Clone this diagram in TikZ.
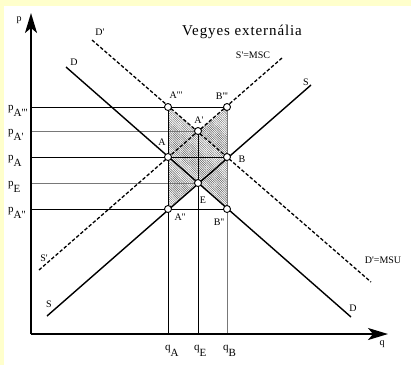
\documentclass[tikz,border=0pt]{standalone}
\usepackage{fontspec}
\setmainfont{Liberation Serif}[Ligatures=TeXOff]
\usetikzlibrary{arrows.meta,patterns.meta}
\definecolor{bgyellow}{RGB}{255,255,204}
\definecolor{guidegray}{RGB}{120,120,120}
\definecolor{hatchgray}{RGB}{90,90,90}
\newcommand{\lsub}[2]{#1\raisebox{-6.5pt}{#2}}
\begin{document}
\begin{tikzpicture}[x=1pt,y=-1pt,
  axis/.style={line width=2pt,-{Stealth[length=20pt,width=12pt,inset=5pt]}},
  curve/.style={line width=1.4pt},
  mcurve/.style={line width=1.3pt,dash pattern=on 3.5pt off 2pt},
  guide/.style={line width=0.9pt},
  gguide/.style={line width=0.9pt,draw=guidegray},
  ptc/.style={circle,draw,fill=white,line width=0.9pt,inner sep=0pt,minimum size=7pt},
  lbl/.style={font=\fontsize{10}{12}\selectfont,inner sep=0pt},
  plbl/.style={font=\fontsize{11}{12}\selectfont,inner sep=0pt,anchor=base west},
]
\fill[bgyellow] (0,0) rectangle (411,365);
\fill[white] (4,6) rectangle (411,365);
\useasboundingbox (0,0) rectangle (411,365);
% key points
\coordinate (cAppp) at (168,107);
\coordinate (cBppp) at (227,107);
\coordinate (cAp) at (198,131);
\coordinate (cA) at (168,157);
\coordinate (cB) at (227,157);
\coordinate (cE) at (198,183);
\coordinate (cApp) at (168,209);
\coordinate (cBpp) at (227,209);
% axis
\coordinate (O) at (31,334);
\coordinate (ptop) at (31,13);
\coordinate (qend) at (388,334);
% axis feet / guide ends
\coordinate (pAppp) at (31,107);
\coordinate (pAp) at (31,131);
\coordinate (pA) at (31,157);
\coordinate (pE) at (31,183);
\coordinate (pApp) at (31,209);
\coordinate (qA) at (168,334);
\coordinate (qE) at (198,334);
\coordinate (qB) at (227,334);
% curve ends
\coordinate (D1) at (66,67);
\coordinate (D2) at (351,317);
\coordinate (Dp1) at (92,40);
\coordinate (Dp2) at (371,282);
\coordinate (S1) at (47,316);
\coordinate (S2) at (311,85);
\coordinate (Sp1) at (39,270);
\coordinate (Sp2) at (282,58);
% hatch
\path[pattern={Lines[angle=-45,distance=1.6pt,line width=0.45pt]},pattern color=hatchgray]
  (cAppp) -- (cAp) -- (cBppp) -- (cBpp) -- (cE) -- (cApp) -- cycle;
% guides
\draw[guide] (pAppp) -- (cBppp);
\draw[gguide] (pAp) -- (cAp);
\draw[guide] (pA) -- (cB);
\draw[gguide] (pE) -- (cE);
\draw[guide] (pApp) -- (cBpp);
\draw[guide] (cAppp) -- (qA);
\draw[guide] (cAp) -- (qE);
\draw[gguide] (cBppp) -- (qB);
% curves
\draw[curve] (D1) -- (D2);
\draw[curve] (S1) -- (S2);
\draw[mcurve] (Dp1) -- (Dp2);
\draw[mcurve] (Sp1) -- (Sp2);
% axes
\draw[axis] (O) -- (ptop);
\draw[axis] (O) -- (qend);
% points
\node[ptc] (Appp) at (cAppp) {};
\node[ptc] (Bppp) at (cBppp) {};
\node[ptc] (Ap) at (cAp) {};
\node[ptc] (A) at (cA) {};
\node[ptc] (B) at (cB) {};
\node[ptc] (E) at (cE) {};
\node[ptc] (App) at (cApp) {};
\node[ptc] (Bpp) at (cBpp) {};
% point labels
\node[lbl] (lAppp) at (176,95) {A'''};
\node[lbl] (lBppp) at (222,96) {B'''};
\node[lbl] (lAp) at (199,120) {A'};
\node[lbl] (lA) at (162,142) {A};
\node[lbl] (lB) at (242,159) {B};
\node[lbl] (lE) at (203,200) {E};
\node[lbl] (lApp) at (180,217) {A''};
\node[lbl] (lBpp) at (219,222) {B''};
% curve labels
\node[lbl] (lD) at (74,62) {D};
\node[lbl] (lDp) at (100,32) {D'};
\node[lbl] (lSMSC) at (253,55) {S'=MSC};
\node[lbl] (lS2) at (306,82) {S};
\node[lbl] (lSp) at (44,258) {S'};
\node[lbl] (lS1) at (49,304) {S};
\node[lbl] (lDMSU) at (383,260) {D'=MSU};
\node[lbl] (lD2) at (353,308) {D};
% axis labels
\node[lbl] (lp) at (19,20) {p};
\node[lbl] (lq) at (382,344) {q};
\node[plbl] (lpAppp) at (8,110) {\lsub{p}{A'''}};
\node[plbl] (lpAp) at (8,134) {\lsub{p}{A'}};
\node[plbl] (lpA) at (8,160) {\lsub{p}{A}};
\node[plbl] (lpE) at (8,186) {\lsub{p}{E}};
\node[plbl] (lpApp) at (8,212) {\lsub{p}{A''}};
\node[plbl] (lqA) at (165,350) {\lsub{q}{A}};
\node[plbl] (lqE) at (194,350) {\lsub{q}{E}};
\node[plbl] (lqB) at (223,350) {\lsub{q}{B}};
% title
\node[inner sep=0pt,anchor=base,font=\fontsize{15}{18}\selectfont\addfontfeature{LetterSpace=6}] (title) at (242,35) {Vegyes externália};
\end{tikzpicture}
\end{document}
